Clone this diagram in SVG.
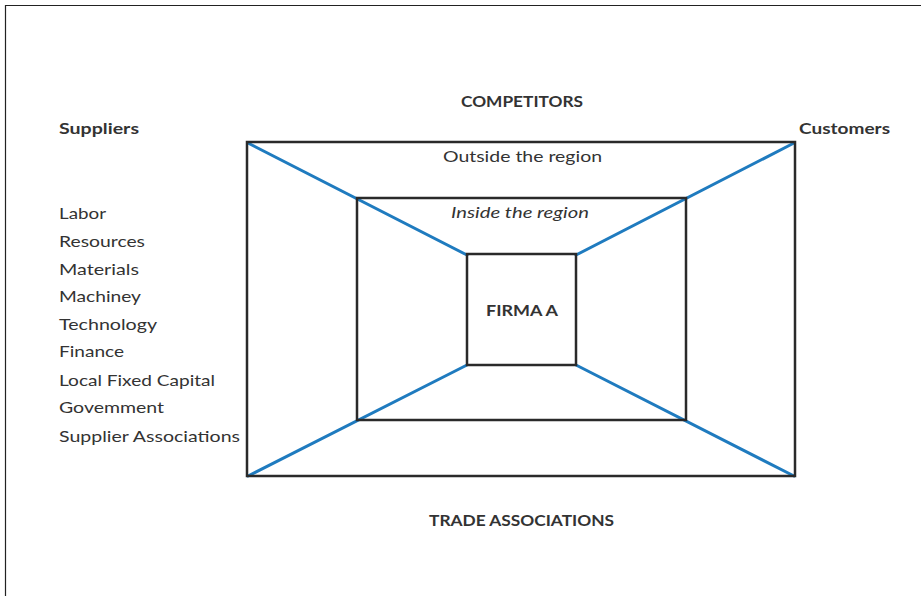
<svg xmlns="http://www.w3.org/2000/svg" width="921" height="596" viewBox="0 0 921 596">
  <style>
    text { font-family: Lato, "Open Sans", "Liberation Sans", sans-serif; font-size: 16px; fill: #333; }
    .b { font-weight: bold; }
    .i { font-style: italic; }
    .box { fill: none; stroke: #2a2a2a; stroke-width: 2.5; }
    .ray { stroke: #1f7bbf; stroke-width: 3; stroke-linecap: round; }
  </style>
  <rect width="921" height="596" fill="#fff"/>
  <!-- page frame -->
  <path d="M5.5 596 V5.5 H921" fill="none" stroke="#222" stroke-width="1.2"/>

  <!-- perspective rays linking the corners -->
  <g id="connectors">
    <line class="ray" x1="248" y1="143" x2="467" y2="255"/>
    <line class="ray" x1="794" y1="143" x2="576" y2="255"/>
    <line class="ray" x1="248" y1="476" x2="467" y2="365"/>
    <line class="ray" x1="794" y1="476" x2="576" y2="365"/>
  </g>

  <g id="outside-region">
    <rect class="box" x="247" y="142" width="548" height="334"/>
    <text x="443" y="162" textLength="159" lengthAdjust="spacingAndGlyphs">Outside the region</text>
  </g>
  <g id="inside-region">
    <rect class="box" x="357" y="198" width="329" height="222"/>
    <text class="i" x="451" y="218" textLength="138" lengthAdjust="spacingAndGlyphs">Inside the region</text>
  </g>
  <g id="firma-a">
    <rect class="box" x="467" y="254" width="109" height="111"/>
    <text class="b" x="486" y="316" textLength="72" lengthAdjust="spacingAndGlyphs">FIRMA A</text>
  </g>

  <g id="competitors">
    <text class="b" x="461" y="107" textLength="122" lengthAdjust="spacingAndGlyphs">COMPETITORS</text>
  </g>
  <g id="customers">
    <text class="b" x="799" y="134" textLength="91" lengthAdjust="spacingAndGlyphs">Customers</text>
  </g>
  <g id="trade-associations">
    <text class="b" x="429" y="526" textLength="185" lengthAdjust="spacingAndGlyphs">TRADE ASSOCIATIONS</text>
  </g>

  <g id="suppliers">
    <text class="b" x="59" y="134" textLength="80" lengthAdjust="spacingAndGlyphs">Suppliers</text>
    <text x="59" y="219" textLength="47" lengthAdjust="spacingAndGlyphs">Labor</text>
    <text x="59" y="247" textLength="86" lengthAdjust="spacingAndGlyphs">Resources</text>
    <text x="59" y="275" textLength="80" lengthAdjust="spacingAndGlyphs">Materials</text>
    <text x="59" y="302" textLength="82" lengthAdjust="spacingAndGlyphs">Machiney</text>
    <text x="59" y="330" textLength="98" lengthAdjust="spacingAndGlyphs">Technology</text>
    <text x="59" y="357" textLength="65" lengthAdjust="spacingAndGlyphs">Finance</text>
    <text x="59" y="386" textLength="156" lengthAdjust="spacingAndGlyphs">Local Fixed Capital</text>
    <text x="59" y="413" textLength="105" lengthAdjust="spacingAndGlyphs">Govemment</text>
    <text x="59" y="442" textLength="181" lengthAdjust="spacingAndGlyphs">Supplier Associations</text>
  </g>
</svg>
